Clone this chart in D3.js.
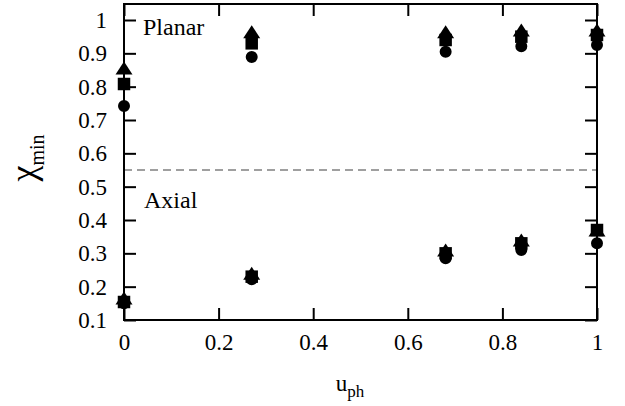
<!DOCTYPE html>
<html>
<head>
<meta charset="utf-8">
<script src="https://cdn.jsdelivr.net/npm/d3@7"></script>
<style>
  body { margin: 0; background: #fff; }
  text { font-family: "Liberation Serif", "DejaVu Serif", serif; fill: #000; }
</style>
</head>
<body>
<div id="chart"></div>
<script>
// data
var uph = [0, 0.27, 0.68, 0.84, 1.0];
var planarCircle   = [0.742, 0.889, 0.905, 0.921, 0.925];
var planarSquare   = [0.808, 0.93, 0.94, 0.95, 0.955];
var planarTriangle = [0.856, 0.965, 0.965, 0.97, 0.97];
var axialCircle    = [0.15, 0.222, 0.285, 0.31, 0.33];
var axialSquare    = [0.154, 0.23, 0.30, 0.33, 0.37];
var axialTriangle  = [0.166, 0.24, 0.31, 0.34, 0.37];
var divider = 0.55;
var xTicks = [0, 0.2, 0.4, 0.6, 0.8, 1];
var yTicks = [0.1, 0.2, 0.3, 0.4, 0.5, 0.6, 0.7, 0.8, 0.9, 1];

var totwidth = 625, totheight = 406,
    margin = {left: 124, right: 28, top: 4, bottom: 86},
    width = totwidth - margin.left - margin.right,
    height = totheight - margin.top - margin.bottom;

var svg = d3.select("#chart").append("svg")
    .attr("width", totwidth)
    .attr("height", totheight);
var g = svg.append("g")
    .attr("transform", "translate(" + margin.left + "," + margin.top + ")");

var x = d3.scaleLinear().domain([0, 1]).range([0, width]);
var y = d3.scaleLinear().domain([0.1, 1.048]).range([height, 0]);

// dashed divider
g.append("line")
  .attr("x1", x(0)).attr("x2", x(1))
  .attr("y1", y(divider)).attr("y2", y(divider))
  .attr("stroke", "#808080").attr("stroke-width", 1.5)
  .attr("stroke-dasharray", "8,5");

// axes, ticks pointing inward on all four sides
var tick = 12;
function styleAxis(sel) {
  sel.selectAll(".domain").remove();
  sel.attr("font-size", null).attr("font-family", null);
  sel.selectAll(".tick line").attr("stroke", "#000").attr("stroke-width", 2);
  sel.selectAll(".tick text").style("font-size", "23px");
}
var axB = g.append("g").attr("transform", "translate(0," + height + ")")
  .call(d3.axisBottom(x).tickValues(xTicks).tickFormat(d3.format("~g"))
    .tickSizeInner(-tick).tickSizeOuter(0).tickPadding(14));
styleAxis(axB);
var axT = g.append("g")
  .call(d3.axisTop(x).tickValues(xTicks).tickFormat("").tickSizeInner(-tick).tickSizeOuter(0));
styleAxis(axT);
var axL = g.append("g")
  .call(d3.axisLeft(y).tickValues(yTicks).tickFormat(d3.format("~g"))
    .tickSizeInner(-tick).tickSizeOuter(0).tickPadding(17));
styleAxis(axL);
var axR = g.append("g").attr("transform", "translate(" + width + ",0)")
  .call(d3.axisRight(y).tickValues(yTicks).tickFormat("").tickSizeInner(-tick).tickSizeOuter(0));
styleAxis(axR);

// frame
g.append("rect")
  .attr("x", 0).attr("y", 0).attr("width", width).attr("height", height)
  .attr("fill", "none").attr("stroke", "#000").attr("stroke-width", 2);

// markers
var circleSym = d3.symbol().type(d3.symbolCircle).size(113);
var squareSym = d3.symbol().type(d3.symbolSquare).size(156);
// flat triangle, about 17 wide and 13 tall
var flatTriangle = {
  draw: function(ctx, size) {
    var w = Math.sqrt(size) * 0.78, h = w * 0.76;
    ctx.moveTo(0, -h / 2);
    ctx.lineTo(w / 2, h / 2);
    ctx.lineTo(-w / 2, h / 2);
    ctx.closePath();
  }
};
var triSym = d3.symbol().type(flatTriangle).size(475);

function drawSeries(vals, sym) {
  g.append("g").selectAll("path")
    .data(uph.map(function(u, i) { return {u: u, v: vals[i]}; }))
    .enter().append("path")
      .attr("d", sym)
      .attr("fill", "#000")
      .attr("transform", function(d) { return "translate(" + x(d.u) + "," + y(d.v) + ")"; });
}
drawSeries(planarCircle, circleSym);
drawSeries(axialCircle, circleSym);
drawSeries(planarSquare, squareSym);
drawSeries(axialSquare, squareSym);
drawSeries(planarTriangle, triSym);
drawSeries(axialTriangle, triSym);

// region labels
g.append("text").attr("x", 19).attr("y", 31).style("font-size", "24px").text("Planar");
g.append("text").attr("x", 20).attr("y", 204).style("font-size", "24px").text("Axial");

// axis titles
var xl = svg.append("text")
  .attr("x", 350).attr("y", 391)
  .attr("text-anchor", "middle").style("font-size", "23px");
xl.append("tspan").text("u");
xl.append("tspan").attr("dy", 6).style("font-size", "17px").text("ph");

var yl = svg.append("text")
  .attr("transform", "translate(35,158) rotate(-90)")
  .attr("text-anchor", "middle").style("font-size", "36px");
yl.append("tspan").text("χ");
yl.append("tspan").attr("dy", 9).style("font-size", "20px").text("min");
</script>
</body>
</html>
